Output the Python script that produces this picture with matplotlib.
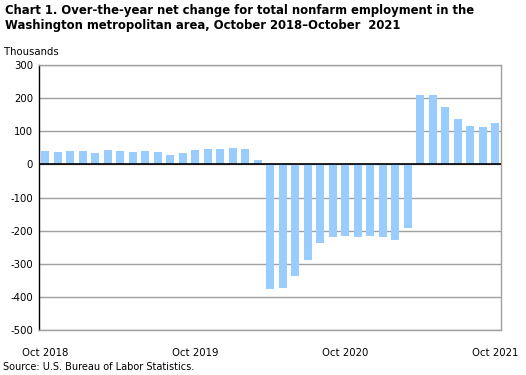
import numpy as np
import matplotlib.pyplot as plt
import matplotlib as mpl

mpl.rcParams.update({
    "font.family": "DejaVu Sans",
    "axes.unicode_minus": False,
})

# Over-the-year net change, thousands, Oct 2018 .. Oct 2021 (monthly)
months = ["Oct 2018", "Nov 2018", "Dec 2018", "Jan 2019", "Feb 2019", "Mar 2019",
          "Apr 2019", "May 2019", "Jun 2019", "Jul 2019", "Aug 2019", "Sep 2019",
          "Oct 2019", "Nov 2019", "Dec 2019", "Jan 2020", "Feb 2020", "Mar 2020",
          "Apr 2020", "May 2020", "Jun 2020", "Jul 2020", "Aug 2020", "Sep 2020",
          "Oct 2020", "Nov 2020", "Dec 2020", "Jan 2021", "Feb 2021", "Mar 2021",
          "Apr 2021", "May 2021", "Jun 2021", "Jul 2021", "Aug 2021", "Sep 2021",
          "Oct 2021"]
change = [40, 37, 40, 40, 34, 43, 40, 37, 40, 37, 28, 34,
          43, 46, 46, 49, 46, 13,
          -376, -373, -337, -288, -237, -219, -216, -219, -216, -219, -228, -192,
          209, 209, 173, 136, 115, 112, 124]
tick_labels = ["Oct 2018", "Oct 2019", "Oct 2020", "Oct 2021"]
y_ticks = [300, 200, 100, 0, -100, -200, -300, -400, -500]

BAR = "#99CCFF"
GRID = "#A0A0A0"

fig = plt.figure(figsize=(5.26, 3.75), dpi=100)
ax = fig.add_axes([38.5 / 526, 1 - 330 / 375, (500.5 - 38.5) / 526, (330 - 65) / 375])

x = np.arange(len(change))
ax.bar(x, change, width=0.64, color=BAR, zorder=2)

ax.set_xlim(-0.56, len(change) - 0.56)
ax.set_ylim(-500, 300)
ax.set_yticks(y_ticks)
ax.set_yticklabels([str(v) for v in y_ticks])
ax.grid(axis="y", color=GRID, linewidth=1.0, zorder=0)
ax.axhline(0, color="black", linewidth=1.2, zorder=3)

tick_pos = [months.index(t) for t in tick_labels]
ax.set_xticks(tick_pos)
ax.set_xticklabels(tick_labels)
ax.tick_params(axis="both", length=0, labelsize=7.3, colors="black")
ax.tick_params(axis="x", pad=13)
ax.tick_params(axis="y", pad=4)

for side in ["top", "right", "bottom"]:
    ax.spines[side].set_color(GRID)
    ax.spines[side].set_linewidth(1.0)
ax.spines["left"].set_color("black")
ax.spines["left"].set_linewidth(1.0)

fig.text(5 / 526, 1 - 4 / 375,
         "Chart 1. Over-the-year net change for total nonfarm employment in the\n"
         "Washington metropolitan area, October 2018\u2013October  2021",
         fontsize=8.4, fontweight="bold", va="top", ha="left", linespacing=1.25)
fig.text(4 / 526, 1 - 52 / 375, "Thousands", fontsize=7.3, va="center", ha="left")
fig.text(3 / 526, 1 - 367 / 375, "Source: U.S. Bureau of Labor Statistics.",
         fontsize=7.0, va="center", ha="left")

fig.savefig("out.png", dpi=100)
